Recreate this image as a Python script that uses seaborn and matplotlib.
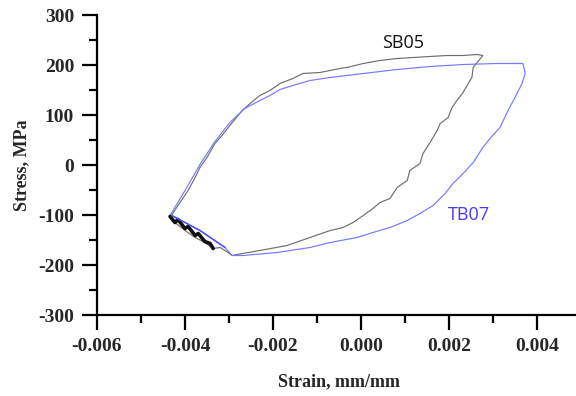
import numpy as np
import pandas as pd
import matplotlib
matplotlib.use("Agg")
import matplotlib.pyplot as plt
from matplotlib.ticker import MultipleLocator, FormatStrFormatter
import seaborn as sns

# ---- data ----
sb05_strain = [-0.00434, -0.00416, -0.00393, -0.00377, -0.00366, -0.00350, -0.00332, -0.00316,
               -0.00298, -0.00270, -0.00252, -0.00230, -0.00207, -0.00184, -0.00155, -0.00132,
               -0.00093, -0.00048, -0.00032, 0.00005, 0.00043, 0.00082, 0.00118, 0.00157,
               0.00195, 0.00232, 0.00264, 0.00277,
               0.00264, 0.00255, 0.00252, 0.00241, 0.00232, 0.00218, 0.00207, 0.00198,
               0.00180, 0.00173, 0.00157, 0.00141, 0.00134, 0.00111, 0.00105, 0.00082,
               0.00066, 0.00043, 0.00027, 0.00005, -0.00018, -0.00041, -0.00070, -0.00116,
               -0.00168, -0.00230, -0.00282, -0.00293,
               -0.00302, -0.00320, -0.00336, -0.00355, -0.00377, -0.00400, -0.00423, -0.00434]
sb05_stress = [-105, -81, -51, -25, -5, 15, 43, 59,
               79, 109, 123, 139, 149, 163, 173, 183,
               185, 193, 195, 203, 209, 213, 215, 217,
               219, 219, 221, 219,
               205, 195, 175, 159, 145, 129, 115, 95,
               83, 69, 45, 23, 3, -11, -31, -45,
               -67, -75, -87, -101, -115, -125, -131, -145,
               -161, -171, -179, -181,
               -175, -165, -167, -155, -145, -131, -115, -105]

sb05_noise_strain = [-0.00434, -0.00423, -0.00416, -0.00400, -0.00393, -0.00377, -0.00370,
                     -0.00355, -0.00343, -0.00336]
sb05_noise_stress = [-103, -115, -109, -127, -123, -141, -137, -153, -157, -167]

tb07_strain = [-0.00434, -0.00400, -0.00366, -0.00332, -0.00298, -0.00264, -0.00230, -0.00207,
               -0.00184, -0.00155, -0.00116, -0.00070, 0.00005, 0.00082, 0.00157, 0.00232,
               0.00309, 0.00368,
               0.00373, 0.00366, 0.00350, 0.00334, 0.00316, 0.00295, 0.00277, 0.00255,
               0.00232, 0.00209, 0.00191, 0.00164, 0.00134, 0.00105, 0.00066, 0.00027,
               -0.00009, -0.00070, -0.00116, -0.00191, -0.00268, -0.00293,
               -0.00309, -0.00366, -0.00430]
tb07_stress = [-101, -51, 1, 47, 85, 113, 129, 139,
               151, 159, 169, 175, 183, 191, 197, 201,
               203, 203,
               183, 163, 135, 109, 75, 55, 35, 5,
               -17, -37, -57, -81, -97, -111, -125, -135,
               -145, -155, -165, -175, -181, -181,
               -165, -131, -101]

labels = ["SB05", "TB07"]
x_ticks = [-0.006, -0.004, -0.002, 0.000, 0.002, 0.004]
y_ticks = [-300, -200, -100, 0, 100, 200, 300]

df = pd.concat([
    pd.DataFrame({"strain": sb05_strain, "stress": sb05_stress, "specimen": "SB05"}),
    pd.DataFrame({"strain": tb07_strain, "stress": tb07_stress, "specimen": "TB07"}),
], ignore_index=True)
df_noise = pd.DataFrame({"strain": sb05_noise_strain, "stress": sb05_noise_stress})

sns.set_style("ticks")
plt.rcParams["font.family"] = ["Liberation Serif", "DejaVu Serif"]
plt.rcParams["axes.unicode_minus"] = False

fig = plt.figure(figsize=(5.76, 3.96), dpi=100)
ax = fig.add_axes([97 / 576, 1 - 315 / 396, 484 / 576, 300 / 396])

palette = {"SB05": "#6e6e6e", "TB07": "#7878ff"}
sns.lineplot(data=df, x="strain", y="stress", hue="specimen", palette=palette,
             sort=False, estimator=None, units="specimen", linewidth=0.85,
             legend=False, ax=ax)
sns.lineplot(data=df_noise, x="strain", y="stress", sort=False, estimator=None,
             color="#111111", linewidth=2.6, legend=False, ax=ax)
# redraw blue tip segment on top
ax.plot(tb07_strain[-3:], tb07_stress[-3:], color="#5050ff", linewidth=1.1)

ax.set_xlim(-0.006, 0.005)
ax.set_ylim(-300, 300)
ax.set_xticks(x_ticks)
ax.set_yticks(y_ticks)
ax.xaxis.set_minor_locator(MultipleLocator(0.001))
ax.yaxis.set_minor_locator(MultipleLocator(50))
ax.xaxis.set_major_formatter(FormatStrFormatter("%.3f"))
ax.yaxis.set_major_formatter(FormatStrFormatter("%d"))

for s in ["top", "right"]:
    ax.spines[s].set_visible(False)
for s in ["left", "bottom"]:
    ax.spines[s].set_linewidth(1.6)
    ax.spines[s].set_color("black")

ax.tick_params(axis="both", which="major", length=10.5, width=1.6, direction="out",
               labelsize=14, color="black")
ax.tick_params(axis="both", which="minor", length=5.5, width=1.6, direction="out",
               color="black")
ax.tick_params(axis="x", which="major", pad=6)
ax.tick_params(axis="y", which="major", pad=6)
for lab in ax.get_xticklabels() + ax.get_yticklabels():
    lab.set_fontweight("bold")

ax.set_xlabel("Strain, mm/mm", fontsize=13, fontweight="bold", labelpad=13)
ax.set_ylabel("Stress, MPa", fontsize=13, fontweight="bold", labelpad=6)

ax.text(0.00095, 245, labels[0], fontsize=13, color="#111111",
        family=["Open Sans", "DejaVu Sans"], ha="center", va="center")
ax.text(0.00245, -100, labels[1], fontsize=13, color="#4a3cf5",
        family=["Open Sans", "DejaVu Sans"], ha="center", va="center")

fig.savefig("out.png", dpi=100, facecolor="white")
